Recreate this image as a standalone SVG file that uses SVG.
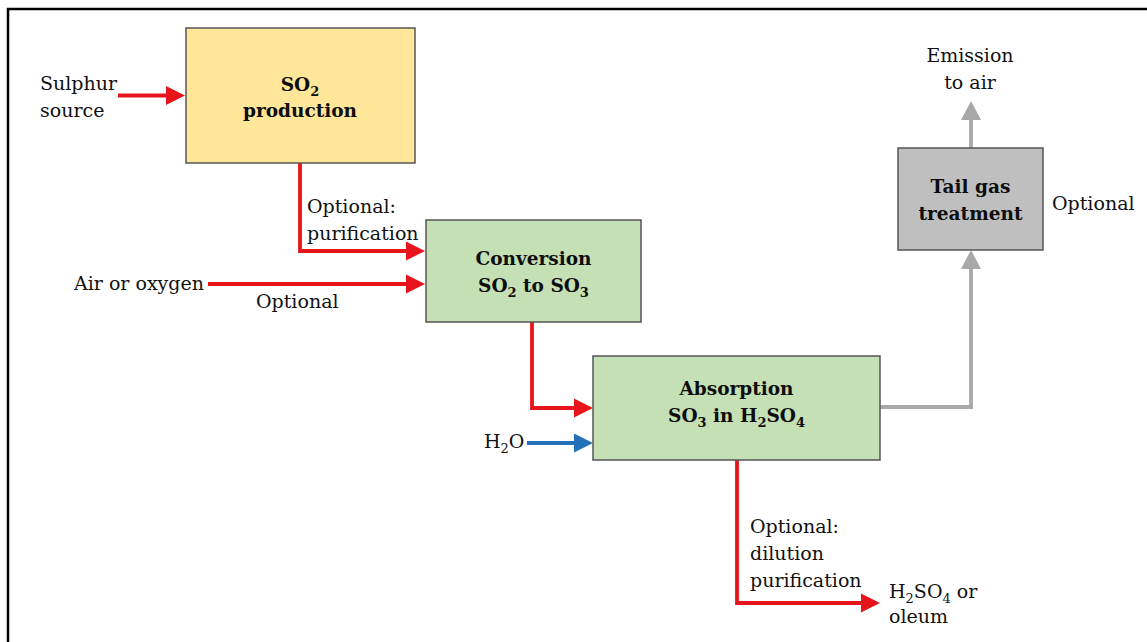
<svg xmlns="http://www.w3.org/2000/svg" width="1147" height="642" viewBox="0 0 1147 642">
<style>
text{font-family:"DejaVu Serif","Liberation Serif",serif;fill:#111}
.lbl{font-size:19px}
.b{font-size:18.5px;font-weight:bold;text-anchor:middle;fill:#0d0d0d}
.box{stroke:#555;stroke-width:1.5}
.red{fill:none;stroke:#E8141B;stroke-width:3.8}
.blue{fill:none;stroke:#2372B9;stroke-width:3.8}
.gray{fill:none;stroke:#A8A8A8;stroke-width:3.8}
</style>
<defs>
<marker id="ar" markerUnits="userSpaceOnUse" markerWidth="19" markerHeight="20" viewBox="0 -10 19 20" refX="0" refY="0" orient="auto"><path d="M0,-9.5 L19,0 L0,9.5 z" fill="#E8141B"/></marker>
<marker id="ab" markerUnits="userSpaceOnUse" markerWidth="19" markerHeight="20" viewBox="0 -10 19 20" refX="0" refY="0" orient="auto"><path d="M0,-9.5 L19,0 L0,9.5 z" fill="#2372B9"/></marker>
<marker id="ag" markerUnits="userSpaceOnUse" markerWidth="19" markerHeight="22" viewBox="0 -11 19 22" refX="0" refY="0" orient="auto"><path d="M0,-10 L19,0 L0,10 z" fill="#A8A8A8"/></marker>
</defs>
<rect width="1147" height="642" fill="#fff"/>
<path d="M8,642 V9 H1147" fill="none" stroke="#000" stroke-width="2.5"/>

<g id="connectors">
<path class="red" d="M118,95.5 H166" marker-end="url(#ar)"/>
<path class="red" d="M300,163 V251 H406" marker-end="url(#ar)"/>
<path class="red" d="M208,284 H406" marker-end="url(#ar)"/>
<path class="red" d="M532,322 V408 H574" marker-end="url(#ar)"/>
<path class="blue" d="M527,443 H574" marker-end="url(#ab)"/>
<path class="red" d="M737,460 V603 H861" marker-end="url(#ar)"/>
<path class="gray" d="M880,407 H971 V269" marker-end="url(#ag)"/>
<path class="gray" d="M971,148 V120" marker-end="url(#ag)"/>
</g>

<g id="so2prod">
<rect class="box" x="186" y="28" width="229" height="135" fill="#FFE699"/>
<text class="b" x="300" y="91">SO<tspan font-size="13" dy="5">2</tspan></text>
<text class="b" x="300" y="117">production</text>
</g>

<g id="conversion">
<rect class="box" x="426" y="220" width="215" height="102" fill="#C5E0B4"/>
<text class="b" x="533.5" y="265">Conversion</text>
<text class="b" x="533.5" y="292">SO<tspan font-size="13" dy="5">2</tspan><tspan dy="-5"> to SO</tspan><tspan font-size="13" dy="5">3</tspan></text>
</g>

<g id="absorption">
<rect class="box" x="593" y="356" width="287" height="104" fill="#C5E0B4"/>
<text class="b" x="736.5" y="395">Absorption</text>
<text class="b" x="736.5" y="422">SO<tspan font-size="13" dy="5">3</tspan><tspan dy="-5"> in H</tspan><tspan font-size="13" dy="5">2</tspan><tspan dy="-5">SO</tspan><tspan font-size="13" dy="5">4</tspan></text>
</g>

<g id="tailgas">
<rect class="box" x="898" y="148" width="145" height="102" fill="#BFBFBF"/>
<text class="b" x="970.5" y="193">Tail gas</text>
<text class="b" x="970.5" y="220">treatment</text>
</g>

<g id="labels">
<text class="lbl" x="40" y="90">Sulphur</text>
<text class="lbl" x="40" y="117">source</text>
<text class="lbl" x="204" y="290" text-anchor="end">Air or oxygen</text>
<text class="lbl" x="307" y="213">Optional:</text>
<text class="lbl" x="307" y="240">purification</text>
<text class="lbl" x="256" y="308">Optional</text>
<text class="lbl" x="484" y="448">H<tspan font-size="13" dy="5">2</tspan><tspan dy="-5">O</tspan></text>
<text class="lbl" x="750" y="533">Optional:</text>
<text class="lbl" x="750" y="560">dilution</text>
<text class="lbl" x="750" y="587">purification</text>
<text class="lbl" x="889" y="598">H<tspan font-size="13" dy="5">2</tspan><tspan dy="-5">SO</tspan><tspan font-size="13" dy="5">4</tspan><tspan dy="-5"> or</tspan></text>
<text class="lbl" x="889" y="623">oleum</text>
<text class="lbl" x="970" y="62" text-anchor="middle">Emission</text>
<text class="lbl" x="970" y="89" text-anchor="middle">to air</text>
<text class="lbl" x="1052" y="210">Optional</text>
</g>
</svg>
